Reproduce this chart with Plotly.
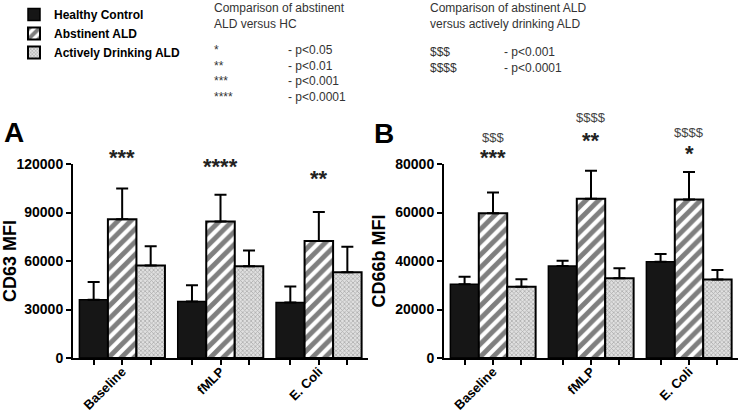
import plotly.graph_objects as go

# ---------------- data ----------------
categories = ["Baseline", "fMLP", "E. Coli"]
series_names = ["Healthy Control", "Abstinent ALD", "Actively Drinking ALD"]

cd63_hc = [36000, 35000, 34400]
cd63_hc_err = [11000, 10000, 9900]
cd63_abs = [85800, 84500, 72300]
cd63_abs_err = [19000, 16500, 18000]
cd63_act = [57200, 56800, 53000]
cd63_act_err = [12000, 9700, 15800]

cd66b_hc = [30400, 37900, 39700]
cd66b_hc_err = [3100, 2200, 3200]
cd66b_abs = [59700, 65700, 65400]
cd66b_abs_err = [8500, 11500, 11300]
cd66b_act = [29400, 32900, 32400]
cd66b_act_err = [3100, 4100, 3900]

cd63_ticks = [0, 30000, 60000, 90000, 120000]
cd66b_ticks = [0, 20000, 40000, 60000, 80000]

sig_a = ["***", "****", "**"]
sig_b_star = ["***", "**", "*"]
sig_b_dollar = ["$$$", "$$$$", "$$$$"]

# ---------------- styling ----------------
FONT = "Arial, Liberation Sans, sans-serif"
W, H = 740, 414
BW = 0.29
offsets = [-BW, 0.0, BW]
styles = [
    dict(color="#161616", line=dict(color="black", width=1.5)),
    dict(color="white", line=dict(color="black", width=2),
         pattern=dict(shape="/", fgcolor="black", bgcolor="white", size=9, solidity=0.55)),
    dict(color="#d0d0d0", line=dict(color="black", width=2),
         pattern=dict(shape="x", fgcolor="#7a7a7a", bgcolor="#e0e0e0", size=3, solidity=0.45)),
]

fig = go.Figure()

panels = [
    ("x", "y", [cd63_hc, cd63_abs, cd63_act], [cd63_hc_err, cd63_abs_err, cd63_act_err], True),
    ("x2", "y2", [cd66b_hc, cd66b_abs, cd66b_act], [cd66b_hc_err, cd66b_abs_err, cd66b_act_err], False),
]
for xa, ya, vals, errs, show in panels:
    for k in range(3):
        xs = [i + offsets[k] for i in range(len(categories))]
        fig.add_trace(go.Bar(
            x=xs, y=vals[k], width=BW, name=series_names[k],
            marker=styles[k], showlegend=show, xaxis=xa, yaxis=ya,
            error_y=dict(type="data", symmetric=False, array=errs[k],
                         arrayminus=[0] * len(errs[k]),
                         color="black", thickness=2, width=6),
        ))

tickvals = [i + o for i in range(len(categories)) for o in offsets]
ticktext = [categories[i] if o == 0.0 else "" for i in range(len(categories)) for o in offsets]

xcommon = dict(range=[-0.5, 2.5], tickvals=tickvals, ticktext=ticktext, tickangle=-45,
               showline=True, linecolor="black", linewidth=2, ticks="outside",
               ticklen=5, tickwidth=1.5, tickcolor="black", showgrid=False, zeroline=False,
               tickfont=dict(family=FONT, size=13, color="black", weight="bold"),
               ticklabelstandoff=-6, automargin=False)
ycommon = dict(showline=True, linecolor="black", linewidth=2, ticks="outside",
               ticklen=5, tickwidth=2, tickcolor="black", showgrid=False, zeroline=False,
               tickfont=dict(family=FONT, size=14, color="black", weight="bold"),
               automargin=False,
               title_font=dict(family=FONT, size=18, color="black", weight="bold"),
               title_standoff=5)

ydom = [56 / H, 250 / H]
fig.update_layout(
    width=W, height=H,
    margin=dict(l=0, r=0, t=0, b=0),
    plot_bgcolor="white", paper_bgcolor="white",
    barmode="overlay",
    xaxis=dict(domain=[73 / W, 368 / W], anchor="y", **xcommon),
    yaxis=dict(domain=ydom, anchor="x", range=[0, 120000], tickvals=cd63_ticks,
               ticktext=[str(v) for v in cd63_ticks], title_text="CD63 MFI", **ycommon),
    xaxis2=dict(domain=[444 / W, 738 / W], anchor="y2", **xcommon),
    yaxis2=dict(domain=ydom, anchor="x2", range=[0, 80000], tickvals=cd66b_ticks,
                ticktext=[str(v) for v in cd66b_ticks], title_text="CD66b MFI", **ycommon),
    legend=dict(x=14 / W, y=1.0, xanchor="left", yanchor="top",
                font=dict(family=FONT, size=12, color="black", weight="bold"),
                bgcolor="rgba(0,0,0,0)", tracegroupgap=0, itemwidth=30),
    font=dict(family=FONT),
)


def py(pix):
    return 1 - pix / H


ann = []
# panel letters
ann.append(dict(text="<b>A</b>", x=2 / W, y=py(132), xref="paper", yref="paper",
                xanchor="left", yanchor="middle", showarrow=False,
                font=dict(family=FONT, size=28, color="black")))
ann.append(dict(text="<b>B</b>", x=372 / W, y=py(133), xref="paper", yref="paper",
                xanchor="left", yanchor="middle", showarrow=False,
                font=dict(family=FONT, size=28, color="black")))

# significance labels (x in data units, y in paper pixels)
sig_a_pix = [158, 166, 178]
for i in range(3):
    ann.append(dict(text=sig_a[i], x=i, y=py(sig_a_pix[i]), xref="x", yref="paper", showarrow=False,
                    font=dict(family=FONT, size=22, color="#222", weight="bold"),
                    xanchor="center", yanchor="middle"))
sig_b_pix = [158, 141, 153]
dol_b_pix = [137, 118, 132]
for i in range(3):
    ann.append(dict(text=sig_b_star[i], x=i, y=py(sig_b_pix[i]), xref="x2", yref="paper",
                    showarrow=False,
                    font=dict(family=FONT, size=22, color="#222", weight="bold"),
                    xanchor="center", yanchor="middle"))
    ann.append(dict(text=sig_b_dollar[i], x=i, y=py(dol_b_pix[i]), xref="x2", yref="paper",
                    showarrow=False, font=dict(family=FONT, size=13, color="#444"),
                    xanchor="center", yanchor="middle"))


def txt(s, x, y, size=12, color="#333"):
    ann.append(dict(text=s, x=x / W, y=py(y), xref="paper", yref="paper",
                    xanchor="left", yanchor="middle", showarrow=False, align="left",
                    font=dict(family=FONT, size=size, color=color)))


txt("Comparison of abstinent", 212, 8)
txt("ALD versus HC", 212, 24)
key_a = [("*", "- p<0.05"), ("**", "- p<0.01"), ("***", "- p<0.001"), ("****", "- p<0.0001")]
for j, (a, b) in enumerate(key_a):
    txt(a, 212, 50 + j * 15.7)
    txt(b, 286, 50 + j * 15.7)

txt("Comparison of abstinent ALD", 428, 8)
txt("versus actively drinking ALD", 428, 24)
key_b = [("$$$", "- p<0.001"), ("$$$$", "- p<0.0001")]
for j, (a, b) in enumerate(key_b):
    txt(a, 428, 52 + j * 15.7)
    txt(b, 502, 52 + j * 15.7)

fig.update_layout(annotations=ann)
fig.write_html("out.html", config={"displayModeBar": False},
               post_script="document.body.style.margin='0';document.body.style.overflow='hidden';")
